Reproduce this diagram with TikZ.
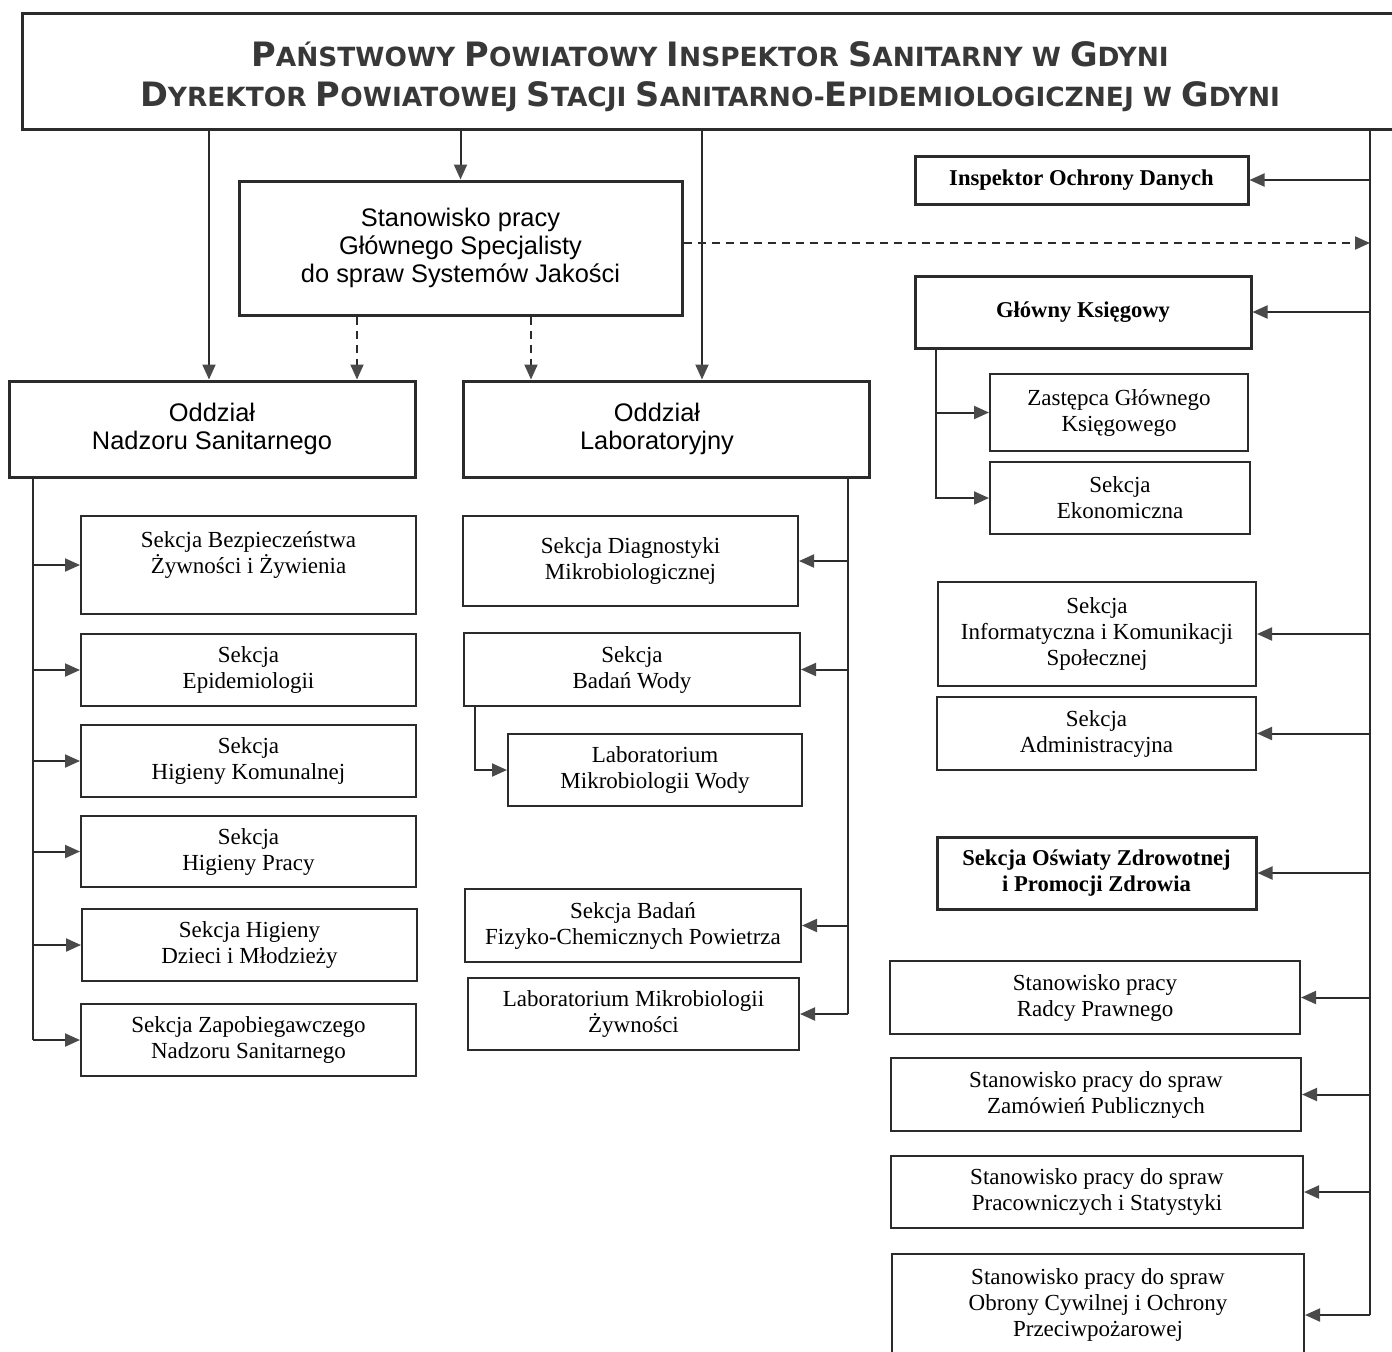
\documentclass[tikz,border=0pt]{standalone}
\usepackage{fontspec}
\setmainfont{Liberation Serif}
\setsansfont{Liberation Sans}
\newfontfamily\titlefont{DejaVu Sans}
\usetikzlibrary{arrows.meta}
\definecolor{lc}{HTML}{2B2B2B}
\definecolor{ac}{HTML}{4A4A4A}
\definecolor{tc}{HTML}{383838}
\newcommand\bigc[1]{{\fontsize{16.8}{20}\selectfont #1}}
\newcommand\bx[7]{\node[#6, minimum width={(#4-#2)*0.5pt}, minimum height={(#5-#3)*0.5pt}] (#1) at ({(#2+#4)/2},{(#3+#5)/2}) {#7};}
\tikzset{
  box/.style={draw=lc, line width=1pt, fill=white, inner sep=1pt, align=center, text=black, font=\fontsize{11.5}{13}\selectfont},
  thickbox/.style={box, line width=1.5pt},
  sbox/.style={thickbox, font=\sffamily\fontsize{12.7}{14}\selectfont},
  bbox/.style={thickbox, font=\bfseries\fontsize{11.3}{13}\selectfont},
  ttbox/.style={thickbox},
  ttext/.style={inner sep=0pt, align=center, text=tc, font=\titlefont\bfseries\fontsize{13.2}{20}\selectfont},
  ln/.style={draw=lc, line width=1pt},
  arr/.style={ln, -{Triangle[length=7.5pt,width=6.5pt,color=ac]}},
  darr/.style={arr, dash pattern=on 4pt off 3pt}
}
\begin{document}
\begin{tikzpicture}[x=0.5pt,y=-0.5pt]
\useasboundingbox (0,0) rectangle (1392,1351);
% title
\bx{title}{22}{13}{1400}{129}{ttbox}{}
\node[ttext] (titletxt) at ([xshift=-0.5pt,yshift=-3pt]title.center) {\bigc{P}AŃSTWOWY \bigc{P}OWIATOWY \bigc{I}NSPEKTOR \bigc{S}ANITARNY W \bigc{G}DYNI\\\bigc{D}YREKTOR \bigc{P}OWIATOWEJ \bigc{S}TACJI \bigc{S}ANITARNO-\bigc{E}PIDEMIOLOGICZNEJ W \bigc{G}DYNI};
\bx{gs}{239}{181}{682}{315}{sbox}{Stanowisko pracy\\Głównego Specjalisty\\do spraw Systemów Jakości}
\bx{ons}{9}{381}{415}{477}{sbox}{Oddział\\Nadzoru Sanitarnego}
\bx{ol}{463}{381}{869}{477}{sbox}{Oddział\hspace*{9pt}\\Laboratoryjny\hspace*{9pt}}
% right column
\bx{iod}{915}{156}{1248}{204}{bbox}{Inspektor Ochrony Danych}
\bx{gk}{915}{276}{1251}{348}{bbox}{Główny Księgowy}
\bx{zgk}{990}{374}{1248}{451}{box}{Zastępca Głównego\\Księgowego}
\bx{se}{990}{462}{1250}{534}{box}{Sekcja\\Ekonomiczna}
\bx{sik}{938}{582}{1256}{686}{box}{Sekcja\\Informatyczna i Komunikacji\\Społecznej}
\bx{sa}{937}{697}{1256}{770}{box}{Sekcja\\Administracyjna}
\bx{soz}{937}{837}{1256}{909}{bbox}{Sekcja Oświaty Zdrowotnej\\i Promocji Zdrowia}
\bx{rp}{890}{961}{1300}{1034}{box}{Stanowisko pracy\\Radcy Prawnego}
\bx{zp}{891}{1058}{1301}{1131}{box}{Stanowisko pracy do spraw\\Zamówień Publicznych}
\bx{ps}{891}{1156}{1303}{1228}{box}{Stanowisko pracy do spraw\\Pracowniczych i Statystyki}
\bx{oc}{892}{1254}{1304}{1356}{box}{Stanowisko pracy do spraw\\Obrony Cywilnej i Ochrony\\Przeciwpożarowej}
% left column
\bx{sbz}{81}{516}{416}{614}{box}{Sekcja Bezpieczeństwa\\Żywności i Żywienia\\\mbox{}}
\bx{sep}{81}{634}{416}{706}{box}{Sekcja\\Epidemiologii}
\bx{shk}{81}{725}{416}{797}{box}{Sekcja\\Higieny Komunalnej}
\bx{shp}{81}{816}{416}{887}{box}{Sekcja\\Higieny Pracy}
\bx{shd}{82}{909}{417}{981}{box}{Sekcja Higieny\\Dzieci i Młodzieży}
\bx{szn}{81}{1004}{416}{1076}{box}{Sekcja Zapobiegawczego\\Nadzoru Sanitarnego}
% middle column
\bx{sdm}{463}{516}{798}{606}{box}{Sekcja Diagnostyki\\Mikrobiologicznej}
\bx{sbw}{464}{633}{800}{706}{box}{Sekcja\\Badań Wody}
\bx{lmw}{508}{734}{802}{806}{box}{Laboratorium\\Mikrobiologii Wody}
\bx{sbf}{465}{889}{801}{962}{box}{Sekcja Badań\\Fizyko-Chemicznych Powietrza}
\bx{lmz}{468}{978}{799}{1050}{box}{Laboratorium Mikrobiologii\\Żywności}

% top connectors
\draw[arr] (title.south -| gs.north) -- (gs.north);
\coordinate (a1) at (209,129);
\draw[arr] (title.south -| a1) -- (a1 |- ons.north);
\coordinate (a2) at (702,129);
\draw[arr] (title.south -| a2) -- (a2 |- ol.north);
\coordinate (d1) at ([xshift=-51.75pt]gs.south);
\draw[darr] (d1) -- (d1 |- ons.north);
\coordinate (d2) at ([xshift=35.25pt]gs.south);
\draw[darr] (d2) -- (d2 |- ol.north);
% right trunk
\coordinate (trR) at (1370,129);
\coordinate (trRend) at (1370,1315);
\draw[ln] (trR) -- (trRend);
\coordinate (dh) at ([yshift=2.5pt]gs.east);
\draw[darr] (dh) -- (dh -| trR);
\foreach \n in {iod,gk,sik,sa,soz,rp,zp,ps}{
  \draw[arr] (trR |- \n.east) -- (\n.east);
}
\draw[arr] (trRend) -- (trRend -| oc.east);
% Glowny Ksiegowy subtree
\coordinate (gkt) at ([xshift=11pt]gk.south west);
\draw[arr] (gkt) |- (se.west);
\draw[arr] (gkt |- zgk.west) -- (zgk.west);
% left trunk
\coordinate (tl) at ([xshift=12.5pt]ons.south west);
\draw[ln] (tl) -- (tl |- szn.west);
\foreach \n in {sbz,sep,shk,shp,shd,szn}{
  \draw[arr] (tl |- \n.west) -- (\n.west);
}
% middle trunk
\coordinate (tm) at ([xshift=-11.5pt]ol.south east);
\draw[ln] (tm) -- (tm |- lmz.east);
\foreach \n in {sdm,sbw,sbf,lmz}{
  \draw[arr] (tm |- \n.east) -- (\n.east);
}
\coordinate (bwt) at ([xshift=6pt]sbw.south west);
\draw[arr] (bwt) |- (lmw.west);
\end{tikzpicture}
\end{document}
